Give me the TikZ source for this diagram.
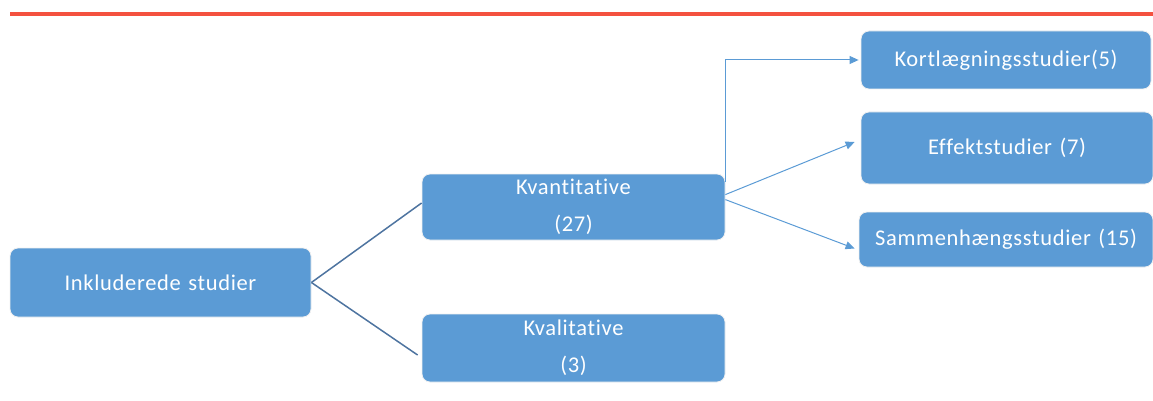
\documentclass[tikz,border=0pt]{standalone}
\usepackage{fontspec}
\setmainfont{Carlito}[LetterSpace=3, Ligatures=NoCommon, WordSpace=1.3]
\usetikzlibrary{arrows.meta}
\definecolor{boxblue}{HTML}{5B9BD5}
\definecolor{linedark}{HTML}{4E74A0}
\definecolor{redline}{HTML}{F4513F}
\tikzset{
  box/.style={draw=white!88!gray, line width=0.8pt, fill=boxblue, rounded corners=8pt, text=white,
    font=\fontsize{22.5}{37}\selectfont, align=center, inner sep=0pt},
  tree/.style={draw=linedark, line width=1.5pt},
  arr/.style={draw=boxblue, line width=1pt, -{Triangle[length=9pt,width=8pt]}}
}
\begin{document}
\begin{tikzpicture}[x=1pt,y=-1pt]
\useasboundingbox (0,0) rectangle (1153,401);
\fill[redline] (10,12.5) rectangle (1153,16.5);
\node[box, minimum width=301pt, minimum height=69pt] (ink) at (160.5,282.5) {Inkluderede studier};
\node[box, minimum width=303pt, minimum height=66pt] (kvan) at (573.5,207) {Kvantitative\\(27)};
\node[box, minimum width=303pt, minimum height=68pt] (kval) at (573.5,348) {Kvalitative\\(3)};
\node[box, minimum width=290pt, minimum height=58pt] (kort) at (1006,60) {Kortlægningsstudier(5)};
\node[box, minimum width=292pt, minimum height=72pt] (eff) at (1007,148) {Effektstudier (7)};
\node[box, minimum width=294pt, minimum height=55pt] (sam) at (1006,239.5) {Sammenhængsstudier (15)};
\coordinate (k1) at ([yshift=-8pt]kvan.north east);
\coordinate (k2) at ([yshift=-21pt]kvan.north east);
\coordinate (k3) at ([yshift=-26pt]kvan.north east);
\coordinate (e1) at ([xshift=-6pt,yshift=6pt]eff.west);
\coordinate (s1) at ([xshift=-4pt,yshift=-9pt]sam.west);
\draw[tree] (ink.east) -- ([yshift=4pt]kvan.west);
\draw[tree] (ink.east) -- ([xshift=-4pt,yshift=-7pt]kval.west);
\draw[arr] (k1) |- ([xshift=-2pt]kort.west);
\draw[arr] (k2) -- (e1);
\draw[arr] (k3) -- (s1);
\end{tikzpicture}
\end{document}
